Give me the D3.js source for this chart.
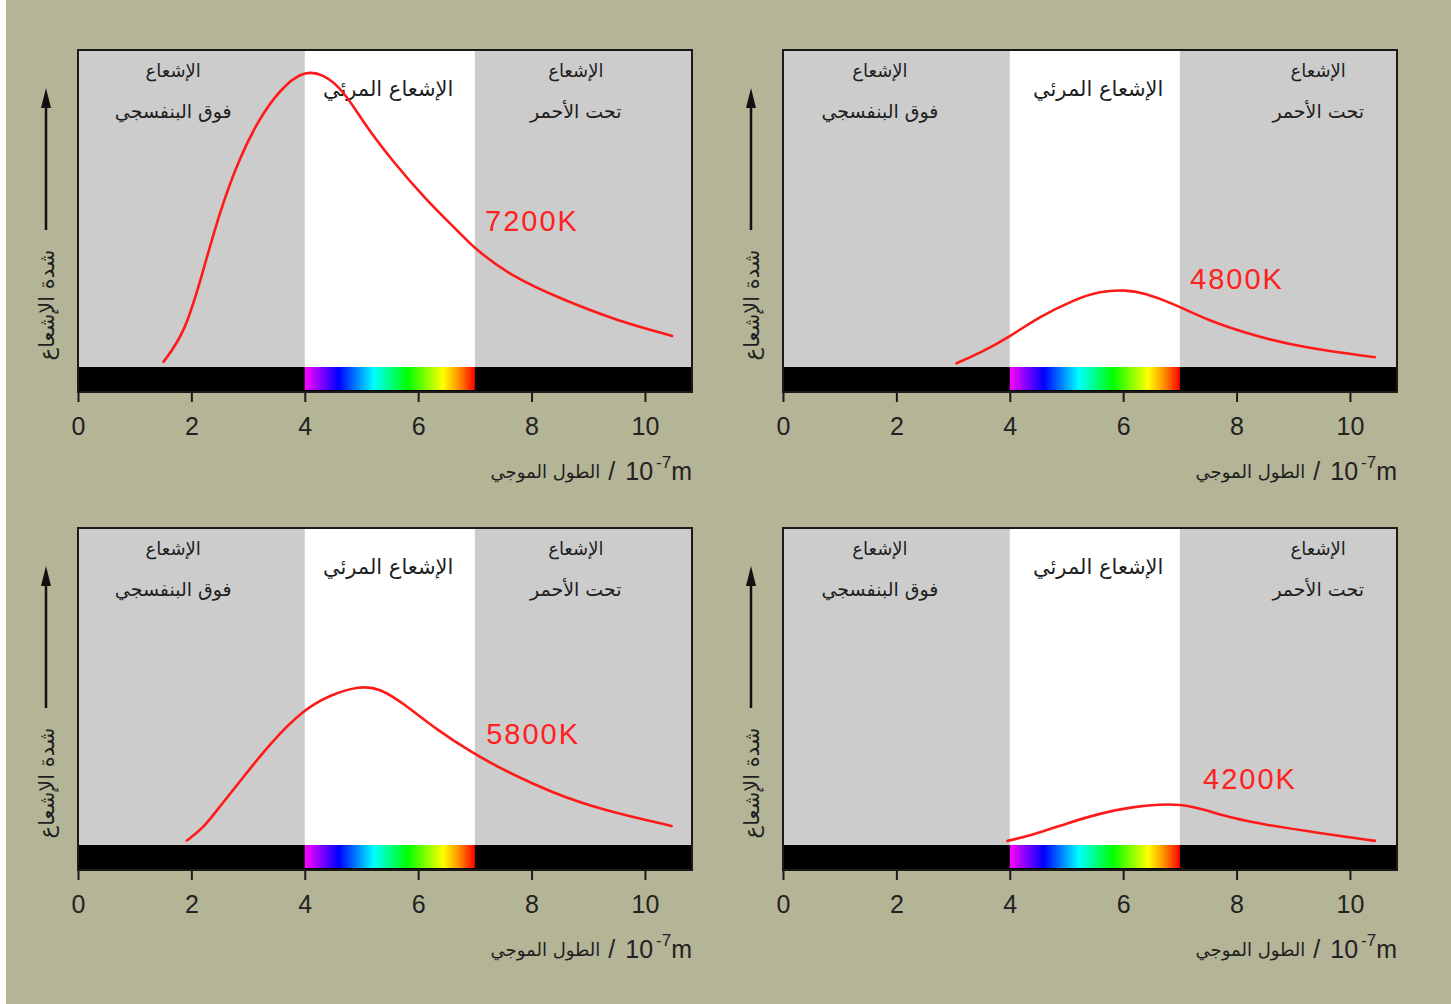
<!DOCTYPE html>
<html>
<head>
<meta charset="utf-8">
<script src="https://cdn.jsdelivr.net/npm/d3@7"></script>
<style>
  body { margin: 0; background: #ffffff; }
  svg { display: block; }
  .tick text { font-family: "Liberation Sans", Arial, sans-serif; fill: #222; }
  .ar { font-family: "DejaVu Sans", sans-serif; fill: #1e1e1e; }
</style>
</head>
<body>
<svg id="chart" width="1451" height="1004"></svg>
<script>
// data (wavelength in 10^-7 m, intensity in arbitrary units 0-100)
const tickValues = [0, 2, 4, 6, 8, 10];
const temperatures = ['7200K', '4800K', '5800K', '4200K'];

const curve7200 = [
    [1.51, 1.7], [1.88, 10.6], [2.18, 28.5], [2.49, 48.5], [2.85, 66.3],
    [3.28, 81.1], [3.70, 90.0], [4.01, 93.2], [4.31, 92.6], [4.68, 87.4],
    [5.04, 76.9], [5.53, 65.3], [6.14, 52.7], [6.74, 42.2], [6.99, 37.4],
    [7.65, 28.5], [8.57, 21.1], [9.48, 14.8], [10.48, 9.8]
];
const curve4800 = [
    [3.06, 1.2], [3.47, 4.3], [4.00, 9.6], [4.53, 15.9], [5.12, 21.1],
    [5.59, 24.0], [6.06, 24.3], [6.35, 23.4], [6.88, 20.1], [7.47, 14.8],
    [8.35, 9.6], [9.24, 5.9], [10.44, 3.1]
];
const curve5800 = [
    [1.92, 1.4], [2.21, 5.3], [2.50, 12.1], [2.92, 21.5], [3.39, 32.1],
    [3.97, 42.6], [4.44, 47.3], [4.97, 50.2], [5.33, 49.4], [5.74, 44.7],
    [6.33, 36.3], [6.97, 28.9], [7.50, 23.7], [8.38, 16.3], [9.26, 11.0],
    [10.47, 6.0]
];
const curve4200 = [
    [3.96, 1.3], [4.41, 3.2], [5.00, 6.8], [5.59, 10.0], [6.18, 12.1],
    [6.65, 12.8], [7.00, 12.8], [7.35, 11.6], [7.94, 8.4], [8.53, 6.3],
    [9.41, 3.9], [10.44, 1.3]
];
const curves = [curve7200, curve4800, curve5800, curve4200];

// label anchor [wavelength, intensity] for each temperature
const tempLabelAt = [[7.18, 42.9], [7.18, 24.6], [7.2, 31.9], [7.41, 17.7]];

// band limits
const visibleBand = [4, 7];
const spectrumStops = [
    [4.0, '#ff00ff'], [4.6, '#0000ff'], [5.22, '#00ffff'],
    [5.82, '#00ff00'], [6.44, '#ffff00'], [6.7, '#ff9900'], [7.0, '#ff0000']
];

const uvLines = ['الإشعاع', 'فوق البنفسجي'];
const visibleText = 'الإشعاع المرئي';
const irLines = ['الإشعاع', 'تحت الأحمر'];
const yTitle = 'شدة الإشعاع';
const xTitleAr = 'الطول الموجي';


// layout
const
    svg = d3.select('#chart'),
    W = 614, H = 317, barH = 25,
    panels = [[78, 50], [783, 50], [78, 528], [783, 528]],
    // band label centres per column (wavelength units)
    bandPos = [[1.68, 5.47, 8.78], [1.71, 5.56, 9.44]];

svg.append('rect').attr('width', 1451).attr('height', 1004).attr('fill', '#ffffff');
svg.append('rect').attr('x', 6).attr('width', 1445).attr('height', 1004).attr('fill', '#b4b497');

const x = d3.scaleLinear().domain([0, 10.83]).range([0, W]);
const y = d3.scaleLinear().domain([0, 100]).range([H, 0]);

const line = d3.line()
    .x(d => x(d[0]))
    .y(d => y(d[1]))
    .curve(d3.curveBasis);

// spectrum gradient
const defs = svg.append('defs');
const grad = defs.append('linearGradient')
    .attr('id', 'spectrum')
    .attr('gradientUnits', 'userSpaceOnUse')
    .attr('x1', x(visibleBand[0])).attr('x2', x(visibleBand[1]))
    .attr('y1', 0).attr('y2', 0);
spectrumStops.forEach(s => {
    grad.append('stop')
        .attr('offset', (s[0] - visibleBand[0]) / (visibleBand[1] - visibleBand[0]))
        .attr('stop-color', s[1]);
});

panels.forEach((p, i) => {
    const g = svg.append('g').attr('transform', `translate(${p[0]},${p[1]})`);
    const col = i % 2;

    // regions
    g.append('rect').attr('width', W).attr('height', H).attr('fill', '#cccccc');
    g.append('rect')
        .attr('x', x(visibleBand[0]))
        .attr('width', x(visibleBand[1]) - x(visibleBand[0]))
        .attr('height', H)
        .attr('fill', '#ffffff');

    // black bar + spectrum
    g.append('rect').attr('y', H).attr('width', W).attr('height', barH).attr('fill', '#000');
    g.append('rect')
        .attr('x', x(visibleBand[0]))
        .attr('y', H)
        .attr('width', x(visibleBand[1]) - x(visibleBand[0]))
        .attr('height', barH - 2)
        .attr('fill', 'url(#spectrum)');

    // frame
    g.append('rect')
        .attr('width', W).attr('height', H + barH)
        .attr('fill', 'none')
        .attr('stroke', '#1a1a1a')
        .attr('stroke-width', 2);

    // band labels
    const bp = bandPos[col];
    [[uvLines, bp[0]], [irLines, bp[2]]].forEach(b => {
        g.append('text').attr('class', 'ar')
            .attr('x', x(b[1])).attr('y', 27)
            .attr('text-anchor', 'middle')
            .attr('font-size', 18)
            .text(b[0][0]);
        g.append('text').attr('class', 'ar')
            .attr('x', x(b[1])).attr('y', 68)
            .attr('text-anchor', 'middle')
            .attr('font-size', 19)
            .text(b[0][1]);
    });
    g.append('text').attr('class', 'ar')
        .attr('x', x(bp[1])).attr('y', 46)
        .attr('text-anchor', 'middle')
        .attr('font-size', 21)
        .text(visibleText);

    // curve
    g.append('path')
        .datum(curves[i])
        .attr('d', line)
        .attr('fill', 'none')
        .attr('stroke', '#ff1a1a')
        .attr('stroke-width', 2.6)
        .attr('stroke-linecap', 'round');

    g.append('text')
        .attr('x', x(tempLabelAt[i][0]))
        .attr('y', y(tempLabelAt[i][1]))
        .attr('font-family', '"Liberation Sans", Arial, sans-serif')
        .attr('font-size', 29)
        .attr('letter-spacing', 2)
        .attr('fill', '#ff2020')
        .text(temperatures[i]);

    // x axis
    const ax = g.append('g')
        .attr('transform', `translate(0,${H + barH})`)
        .call(d3.axisBottom(x).tickValues(tickValues).tickSize(10).tickPadding(15));
    ax.select('.domain').remove();
    ax.selectAll('.tick line').attr('stroke', '#1a1a1a').attr('stroke-width', 2);
    ax.selectAll('.tick text').attr('font-size', 25);

    // x axis title: Arabic + " / 10^-7 m", right aligned on the frame
    const unit = g.append('text')
        .attr('y', 430)
        .attr('text-anchor', 'end')
        .attr('x', W)
        .attr('font-family', '"Liberation Sans", Arial, sans-serif')
        .attr('font-size', 25)
        .attr('fill', '#222');
    unit.append('tspan').text('/');
    unit.append('tspan').attr('dx', 10).text('10');
    unit.append('tspan').attr('font-size', 17).attr('dy', -12).attr('dx', 3).text('-7');
    unit.append('tspan').attr('dy', 12).text('m');
    const ub = unit.node().getBBox();
    g.append('text').attr('class', 'ar')
        .attr('x', ub.x - 8).attr('y', 428)
        .attr('text-anchor', 'end')
        .attr('font-size', 18)
        .attr('fill', '#3a3a3a')
        .text(xTitleAr);

    // y axis arrow + title
    g.append('line')
        .attr('x1', -32).attr('x2', -32)
        .attr('y1', 180).attr('y2', 55)
        .attr('stroke', '#111').attr('stroke-width', 2.5);
    g.append('path')
        .attr('d', 'M-32,38 L-37,58 L-27,58 Z')
        .attr('fill', '#111');
    g.append('text').attr('class', 'ar')
        .attr('transform', 'translate(-24,255) rotate(-90)')
        .attr('text-anchor', 'middle')
        .attr('font-size', 21)
        .attr('fill', '#333')
        .text(yTitle);
});
</script>
</body>
</html>
